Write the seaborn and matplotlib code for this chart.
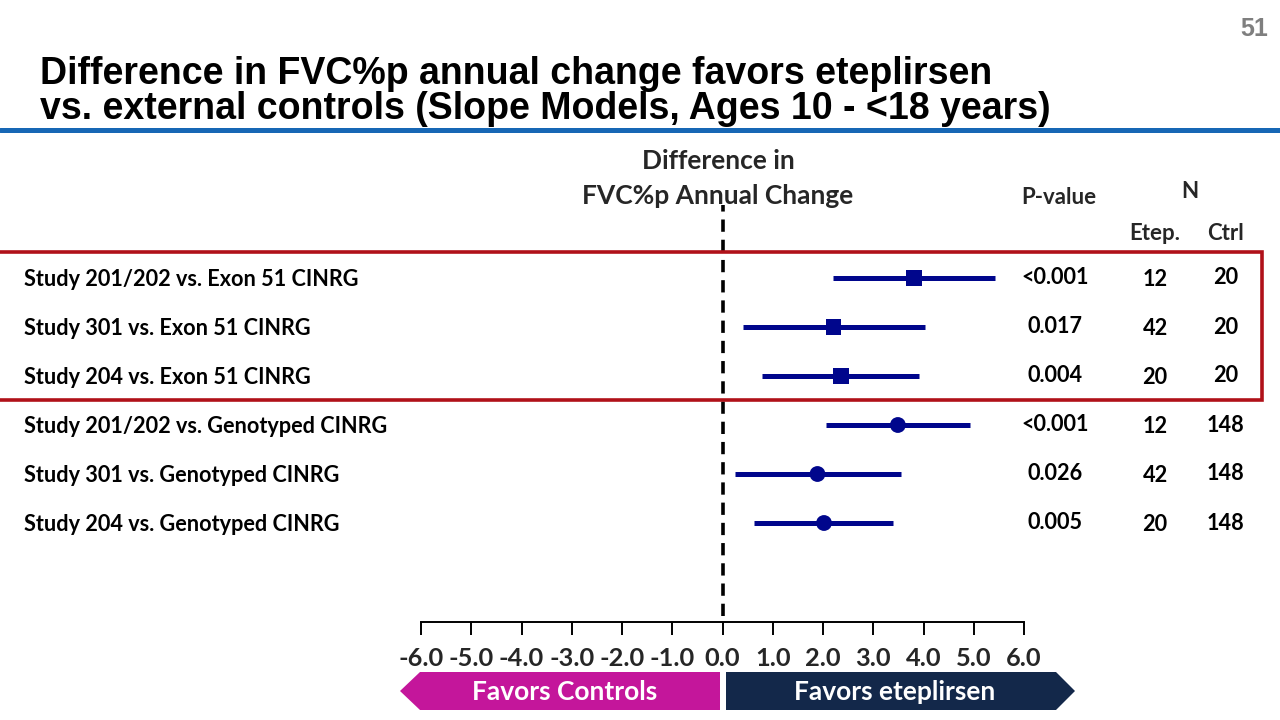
import matplotlib
matplotlib.use("Agg")
import matplotlib.pyplot as plt
import matplotlib.transforms as mtransforms
from matplotlib.patches import Polygon, Rectangle
from matplotlib.lines import Line2D
import seaborn as sns
import pandas as pd

# ---------------- data ----------------
labels = [
    "Study 201/202 vs. Exon 51 CINRG",
    "Study 301 vs. Exon 51 CINRG",
    "Study 204 vs. Exon 51 CINRG",
    "Study 201/202 vs. Genotyped CINRG",
    "Study 301 vs. Genotyped CINRG",
    "Study 204 vs. Genotyped CINRG",
]
control_group = ["Exon 51", "Exon 51", "Exon 51", "Genotyped", "Genotyped", "Genotyped"]
estimate = [3.81, 2.21, 2.36, 3.49, 1.89, 2.02]
ci_low = [2.19, 0.40, 0.79, 2.05, 0.25, 0.63]
ci_high = [5.42, 4.02, 3.91, 4.93, 3.55, 3.39]
p_values = ["<0.001", "0.017", "0.004", "<0.001", "0.026", "0.005"]
n_etep = ["12", "42", "20", "12", "42", "20"]
n_ctrl = ["20", "20", "20", "148", "148", "148"]
x_ticks = [-6.0, -5.0, -4.0, -3.0, -2.0, -1.0, 0.0, 1.0, 2.0, 3.0, 4.0, 5.0, 6.0]
x_tick_labels = [f"{t:.1f}" for t in x_ticks]

df = pd.DataFrame({
    "label": labels, "group": control_group, "est": estimate,
    "lo": ci_low, "hi": ci_high, "row": list(range(len(labels))),
})

# ---------------- styling ----------------
sns.set_theme(style="white")
BODY = ["Lato", "DejaVu Sans"]
TITLE = ["Liberation Sans", "DejaVu Sans"]
plt.rcParams["font.family"] = BODY

W, H = 1280, 720
fig = plt.figure(figsize=(W / 100, H / 100), dpi=100)
fig.patch.set_facecolor("white")

def fx(x):
    return x / W

def fy(y):
    return 1 - y / H

# axes: x -6..6 spans px 421..1024 ; bottom spine at y=622 ; top at y=205
ax_left, ax_right = 421, 1024
ax_top, ax_bot = 205, 622
ax = fig.add_axes([fx(ax_left), fy(ax_bot), (ax_right - ax_left) / W, (ax_bot - ax_top) / H])
ax.set_facecolor("none")
row0_px, row_step = 278, 49
ax.set_ylim((ax_bot - row0_px) / row_step, -(row0_px - ax_top) / row_step)
ax.set_xlim(-6, 6)

NAVY = "#00068c"
ax.hlines(df["row"], df["lo"], df["hi"], color=NAVY, lw=3.6, zorder=3)
sns.scatterplot(data=df, x="est", y="row", style="group",
                markers={"Exon 51": "s", "Genotyped": "o"},
                s=130, color=NAVY, edgecolor=NAVY, linewidth=0,
                legend=False, ax=ax, zorder=4)
ax.axvline(0, ymin=0.015, ymax=1.0, color="black", lw=2.6, ls=(0, (3.4, 2.2)), zorder=2)

for s in ["top", "left", "right"]:
    ax.spines[s].set_visible(False)
ax.spines["bottom"].set_color("black")
ax.spines["bottom"].set_linewidth(1.4)
ax.set_xticks(x_ticks)
ax.set_xticklabels(x_tick_labels, fontsize=18.3, fontweight="bold", family=BODY)
ax.tick_params(axis="x", direction="out", length=9, width=1.4, color="black", pad=9, bottom=True)
ax.set_yticks([])
ax.set_xlabel("")
ax.set_ylabel("")

# row texts tied to data rows
tr = mtransforms.blended_transform_factory(fig.transFigure, ax.transData)
TS = 15.6
for i in range(len(labels)):
    ax.text(fx(24), i + 0.04, labels[i], transform=tr, ha="left", va="center",
            fontsize=TS, fontweight="bold", color="black", clip_on=False)
    ax.text(fx(1055), i - 0.02, p_values[i], transform=tr, ha="center", va="center",
            fontsize=TS, fontweight="bold", color="black", clip_on=False)
    ax.text(fx(1155), i + 0.04, n_etep[i], transform=tr, ha="center", va="center",
            fontsize=TS, fontweight="bold", color="black", clip_on=False)
    ax.text(fx(1226), i + 0.0, n_ctrl[i], transform=tr, ha="center", va="center",
            fontsize=TS, fontweight="bold", color="black", clip_on=False)

# headers
fig.text(fx(718), fy(161), "Difference in", ha="center", va="center", fontsize=19, fontweight="bold")
fig.text(fx(718), fy(196), "FVC%p Annual Change", ha="center", va="center", fontsize=19, fontweight="bold")
fig.text(fx(1059), fy(198), "P-value", ha="center", va="center", fontsize=16, fontweight="bold")
fig.text(fx(1190), fy(192), "N", ha="center", va="center", fontsize=16, fontweight="bold")
fig.text(fx(1155), fy(233), "Etep.", ha="center", va="center", fontsize=16, fontweight="bold")
fig.text(fx(1226), fy(233), "Ctrl", ha="center", va="center", fontsize=16, fontweight="bold")

# title and slide furniture
fig.text(fx(40), fy(74), "Difference in FVC%p annual change favors eteplirsen",
         ha="left", va="center", fontsize=27, fontweight="bold", family=TITLE, color="black")
fig.text(fx(40), fy(109), "vs. external controls (Slope Models, Ages 10 - <18 years)",
         ha="left", va="center", fontsize=27, fontweight="bold", family=TITLE, color="black")
fig.text(fx(1268), fy(29), "51", ha="right", va="center", fontsize=18, fontweight="bold",
         family=TITLE, color="#7f7f7f")
fig.add_artist(Line2D([0, 1], [fy(130), fy(130)], transform=fig.transFigure,
                      color="#1767b5", lw=3.6))

# red highlight box
fig.add_artist(Rectangle((fx(-3), fy(400)), fx(1262 + 3), (400 - 252) / H,
                         transform=fig.transFigure, fill=False,
                         edgecolor="#b01119", lw=2.6, zorder=5))

# favors arrows
def poly(pts, color):
    p = Polygon([(fx(x), fy(y)) for x, y in pts], closed=True, transform=fig.transFigure,
                facecolor=color, edgecolor="none")
    fig.add_artist(p)

poly([(400, 691), (420, 672), (720, 672), (720, 710), (420, 710)], "#c4169b")
poly([(726, 672), (1056, 672), (1075, 691), (1056, 710), (726, 710)], "#13284a")
fig.text(fx(565), fy(692), "Favors Controls", ha="center", va="center", fontsize=19,
         fontweight="bold", color="white")
fig.text(fx(895), fy(692), "Favors eteplirsen", ha="center", va="center", fontsize=19,
         fontweight="bold", color="white")

fig.savefig("out.png", dpi=100, facecolor="white")
